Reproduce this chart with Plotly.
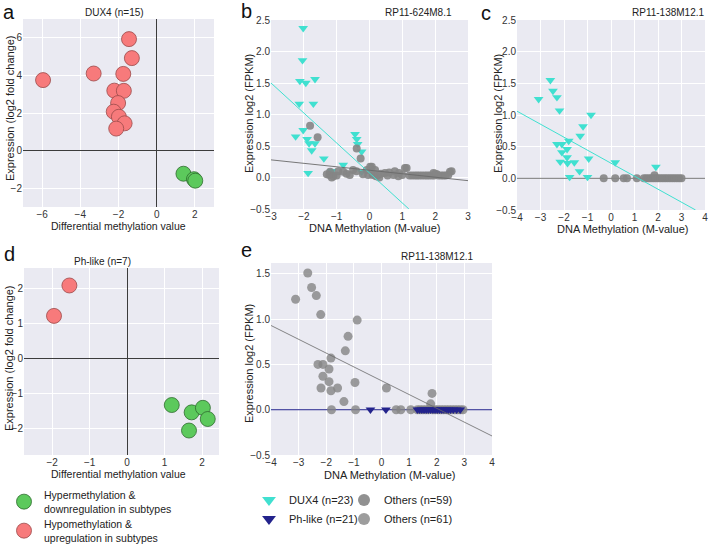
import plotly.graph_objects as go

W, H = 709, 544

# ---------------- data ----------------
# panel a: DUX4 (n=15)
a_hyper_x = [1.40, 1.95, 2.02]
a_hyper_y = [-1.23, -1.52, -1.60]
a_hypo_x = [-5.95, -3.30, -1.45, -1.30, -1.75, -2.22, -1.72, -2.02, -2.25, -1.98, -1.68, -2.12]
a_hypo_y = [3.75, 4.10, 5.93, 4.92, 4.08, 3.19, 3.18, 2.53, 2.07, 1.80, 1.45, 1.17]

# panel d: Ph-like (n=7)
d_hyper_x = [1.19, 1.72, 2.02, 2.15, 1.65]
d_hyper_y = [-1.32, -1.53, -1.40, -1.72, -2.05]
d_hypo_x = [-1.54, -1.95]
d_hypo_y = [2.10, 1.23]

# panel b: RP11-624M8.1
b_dux4_x = [-2.02, -2.04, -2.12, -1.94, -1.66, -2.14, -1.71, -2.25, -2.02, -1.90, -1.84, -1.66,
            -1.76, -1.39, -1.87, -0.80, -1.10, -1.15, -0.44, -0.39, -0.36, -0.24, -0.24]
b_dux4_y = [2.37, 1.86, 1.53, 1.50, 1.56, 1.17, 1.17, 0.65, 0.75, 0.61, 0.54, 0.54,
            0.43, 0.30, 0.07, 0.20, 0.05, 0.10, 0.69, 0.61, 0.53, 0.41, 0.09]
b_others_x = [-1.81, -1.58, -0.39, -0.27, -1.30, -1.22, -1.20, -1.15, -1.10, -1.00, -0.95, -0.80,
              -0.70, -0.60, -0.50, -0.40, -0.20, -0.08, -0.04, 0.02, 0.07, 0.10, 0.12, 0.17,
              0.20, 0.27, 0.30, 0.35, 0.47, 0.55, 0.60, 0.73, 0.77, 0.88, 0.90, 1.00, 1.08,
              1.13, 1.22, 1.30, 1.38, 1.45, 1.52, 1.60, 1.68, 1.75, 1.82, 1.90, 1.95, 1.97,
              2.00, 2.05, 2.10, 2.18, 2.25, 2.32, 2.40, 2.45, 2.50]
b_others_y = [0.82, 0.64, 0.46, 0.30, 0.05, 0.04, 0.09, 0.00, 0.02, 0.03, 0.10, 0.09,
              0.06, 0.04, 0.12, 0.10, 0.05, 0.12, 0.04, 0.17, 0.17, 0.04, 0.06, 0.12,
              0.02, 0.04, 0.00, 0.06, 0.07, 0.03, 0.08, 0.04, 0.10, 0.02, 0.07, 0.04, 0.15,
              0.15, 0.03, 0.03, 0.03, 0.03, 0.03, 0.03, 0.03, 0.03, 0.03, 0.03, 0.07, 0.03,
              0.06, 0.05, 0.03, 0.03, 0.03, 0.03, 0.04, 0.09, 0.10]
b_dux4_fit_x = [-3.0, 1.2]
b_dux4_fit_y = [1.50, -0.50]
b_others_fit_x = [-3.0, 3.0]
b_others_fit_y = [0.28, -0.05]

# panel c: RP11-138M12.1 (DUX4)
c_dux4_x = [-2.58, -2.47, -2.30, -3.08, -2.19, -0.85, -1.19, -1.31, -1.80, -2.30, -2.09, -1.87,
            -2.09, -1.87, -0.95, -2.16, -1.85, -1.56, 0.18, -1.34, 1.91, -1.76, -1.00]
c_dux4_y = [1.55, 1.38, 1.28, 1.25, 1.07, 1.00, 0.82, 0.67, 0.59, 0.54, 0.54, 0.46,
            0.41, 0.33, 0.31, 0.26, 0.24, 0.25, 0.25, 0.11, 0.18, 0.02, 0.02]
c_others_x = [-0.31, 0.18, 0.54, 0.68, 1.10, 1.40, 1.50, 1.60, 1.70, 1.80, 1.85, 1.90,
              2.00, 2.10, 2.20, 2.30, 2.40, 2.50, 2.60, 2.70, 2.80, 2.90, 3.00]
c_others_y = [0, 0, 0, 0, 0, 0, 0, 0, 0, 0, 0.05, 0,
              0, 0, 0, 0, 0, 0, 0, 0, 0, 0, 0]
c_dux4_fit_x = [-4.0, 3.6]
c_dux4_fit_y = [1.06, -0.50]
c_others_fit_x = [-4.0, 4.0]
c_others_fit_y = [0.0, 0.0]

# panel e: RP11-138M12.1 (Ph-like)
e_others_x = [-2.67, -2.53, -2.36, -3.11, -2.20, -0.88, -1.21, -1.31, -1.83, -2.30, -2.12, -1.90,
              -2.12, -1.90, -0.96, -2.19, -1.83, -1.59, 0.18, -1.36, 1.83, 1.78, -1.81, -0.94,
              0.53, 0.70, 1.06, 1.30, 1.40, 1.50, 1.60, 1.70, 1.85, 1.95, 2.05, 2.15, 2.25,
              2.35, 2.45, 2.55, 2.65, 2.75, 2.85, 2.95]
e_others_y = [1.51, 1.35, 1.26, 1.22, 1.05, 0.99, 0.81, 0.65, 0.57, 0.50, 0.50, 0.45,
              0.37, 0.31, 0.30, 0.24, 0.21, 0.24, 0.24, 0.09, 0.18, 0.065, 0, 0,
              0, 0, 0, 0, 0, 0, 0, 0, 0, 0, 0, 0, 0,
              0, 0, 0, 0, 0, 0, 0]
e_phlike_x = [-0.40, 0.16, 1.30, 1.38, 1.46, 1.54, 1.62, 1.70, 1.78, 1.86, 1.94, 2.02,
              2.10, 2.18, 2.26, 2.34, 2.42, 2.50, 2.60, 2.72, 2.85]
e_phlike_y = [0] * 21
e_phlike_fit_x = [-4.0, 4.0]
e_phlike_fit_y = [0.0, 0.0]
e_others_fit_x = [-4.0, 4.0]
e_others_fit_y = [0.93, -0.29]

# ---------------- styles ----------------
RED, RED_EDGE = '#F77A7B', '#9A4A4A'
GREEN, GREEN_EDGE = '#5CC95C', '#2F6B2F'
CYAN = '#40E0D0'
GRAY = '#858585'
NAVY = '#23238C'
BG = '#EAEAF2'
FONT = 'Liberation Sans, Arial, sans-serif'


def dom_x(a, b):
    return [a / W, b / W]


def dom_y(top, bottom):
    return [1 - bottom / H, 1 - top / H]


def axis(domain, rng, dtick, anchor, fmt=None, zeroline=False):
    d = dict(domain=domain, range=rng, dtick=dtick, tick0=0, showgrid=True,
             gridcolor='white', gridwidth=1, zeroline=zeroline,
             zerolinecolor='#3c3c3c', zerolinewidth=1, showline=False, ticks='',
             tickfont=dict(size=10, color='#333333', family=FONT), anchor=anchor,
             fixedrange=True, automargin=False)
    if fmt:
        d['tickformat'] = fmt
    return d


fig = go.Figure()

# panel a
fig.add_trace(go.Scatter(x=a_hyper_x, y=a_hyper_y, mode='markers', xaxis='x', yaxis='y',
                         name='Hypermethylation &<br>downregulation in subtypes',
                         marker=dict(size=15, color=GREEN, line=dict(color=GREEN_EDGE, width=0.8)),
                         legend='legend'))
fig.add_trace(go.Scatter(x=a_hypo_x, y=a_hypo_y, mode='markers', xaxis='x', yaxis='y',
                         name='Hypomethylation &<br>upregulation in subtypes',
                         marker=dict(size=15, color=RED, line=dict(color=RED_EDGE, width=0.8)),
                         legend='legend2'))
# panel d
fig.add_trace(go.Scatter(x=d_hyper_x, y=d_hyper_y, mode='markers', xaxis='x4', yaxis='y4',
                         showlegend=False,
                         marker=dict(size=15, color=GREEN, line=dict(color=GREEN_EDGE, width=0.8))))
fig.add_trace(go.Scatter(x=d_hypo_x, y=d_hypo_y, mode='markers', xaxis='x4', yaxis='y4',
                         showlegend=False,
                         marker=dict(size=15, color=RED, line=dict(color=RED_EDGE, width=0.8))))
# panel b
fig.add_trace(go.Scatter(x=b_dux4_x, y=b_dux4_y, mode='markers', xaxis='x2', yaxis='y2',
                         name='DUX4 (n=23)', legend='legend3',
                         marker=dict(symbol='triangle-down', size=8.5, color=CYAN)))
fig.add_trace(go.Scatter(x=b_others_x, y=b_others_y, mode='markers', xaxis='x2', yaxis='y2',
                         name='Others (n=59)', legend='legend4',
                         marker=dict(size=8, color=GRAY, opacity=0.9)))
fig.add_trace(go.Scatter(x=b_dux4_fit_x, y=b_dux4_fit_y, mode='lines', xaxis='x2', yaxis='y2',
                         showlegend=False, line=dict(color=CYAN, width=1)))
fig.add_trace(go.Scatter(x=b_others_fit_x, y=b_others_fit_y, mode='lines', xaxis='x2', yaxis='y2',
                         showlegend=False, line=dict(color='#6a6a6a', width=0.9)))
# panel c
fig.add_trace(go.Scatter(x=c_others_fit_x, y=c_others_fit_y, mode='lines', xaxis='x3', yaxis='y3',
                         showlegend=False, line=dict(color='#777777', width=1)))
fig.add_trace(go.Scatter(x=c_dux4_x, y=c_dux4_y, mode='markers', xaxis='x3', yaxis='y3',
                         showlegend=False,
                         marker=dict(symbol='triangle-down', size=8.5, color=CYAN)))
fig.add_trace(go.Scatter(x=c_others_x, y=c_others_y, mode='markers', xaxis='x3', yaxis='y3',
                         showlegend=False, marker=dict(size=8, color=GRAY, opacity=0.9)))
fig.add_trace(go.Scatter(x=c_dux4_fit_x, y=c_dux4_fit_y, mode='lines', xaxis='x3', yaxis='y3',
                         showlegend=False, line=dict(color=CYAN, width=1)))
# panel e
fig.add_trace(go.Scatter(x=e_phlike_fit_x, y=e_phlike_fit_y, mode='lines', xaxis='x5', yaxis='y5',
                         showlegend=False, line=dict(color=NAVY, width=1)))
fig.add_trace(go.Scatter(x=e_others_x, y=e_others_y, mode='markers', xaxis='x5', yaxis='y5',
                         name='Others (n=61)', legend='legend6',
                         marker=dict(size=9, color=GRAY, opacity=0.8)))
fig.add_trace(go.Scatter(x=e_phlike_x, y=e_phlike_y, mode='markers', xaxis='x5', yaxis='y5',
                         name='Ph-like (n=21)', legend='legend5',
                         marker=dict(symbol='triangle-down', size=8.5, color=NAVY)))
fig.add_trace(go.Scatter(x=e_others_fit_x, y=e_others_fit_y, mode='lines', xaxis='x5', yaxis='y5',
                         showlegend=False, line=dict(color='#6a6a6a', width=0.8)))


def ann(text, x, y, size=10, angle=0, color='#222222'):
    return dict(text=text, x=x / W, y=1 - y / H, xref='paper', yref='paper',
                xanchor='center', yanchor='middle', showarrow=False, textangle=angle,
                font=dict(size=size, color=color, family=FONT))


annotations = [
    # panel letters
    ann('a', 9, 12, 20, color='#111'), ann('b', 246, 11, 20, color='#111'),
    ann('c', 486, 13, 20, color='#111'), ann('d', 9, 254, 20, color='#111'),
    ann('e', 246, 250, 20, color='#111'),
    # titles
    ann('DUX4 (n=15)', 114, 12), ann('RP11-624M8.1', 418, 12), ann('RP11-138M12.1', 668, 12),
    ann('Ph-like (n=7)', 102, 261), ann('RP11-138M12.1', 437, 256),
    # x titles
    ann('Differential methylation value', 118, 226, 10.5),
    ann('DNA Methylation (M-value)', 375, 228, 11),
    ann('DNA Methylation (M-value)', 622, 229, 11),
    ann('Differential methylation value', 119, 474, 10.5),
    ann('DNA Methylation (M-value)', 389, 475, 11),
    # y titles
    ann('Expression (log2 fold change)', 10, 108, 11, -90),
    ann('Expression log2 (FPKM)', 249, 114, 11, -90),
    ann('Expression log2 (FPKM)', 498, 114, 11, -90),
    ann('Expression (log2 fold change)', 9, 358, 11, -90),
    ann('Expression log2 (FPKM)', 249, 364, 11, -90),
]


def leg(left, cy, size, sizing):
    return dict(x=left / W, y=1 - cy / H, xanchor='left', yanchor='middle',
                bgcolor='rgba(0,0,0,0)', borderwidth=0, itemsizing=sizing,
                font=dict(size=size, color='#222222', family=FONT), tracegroupgap=0,
                itemclick=False, itemdoubleclick=False)


fig.update_layout(
    width=W, height=H, margin=dict(l=0, r=0, t=0, b=0, pad=0, autoexpand=False),
    paper_bgcolor='white', plot_bgcolor=BG,
    font=dict(family=FONT),
    xaxis=axis(dom_x(23, 214), [-7, 3], 2, 'y', zeroline=True),
    yaxis=axis(dom_y(19, 207), [-3, 7], 2, 'x', zeroline=True),
    xaxis2=axis(dom_x(271, 468), [-3, 3], 1, 'y2'),
    yaxis2=axis(dom_y(20, 209), [-0.5, 2.5], 0.5, 'x2', fmt='.1f'),
    xaxis3=axis(dom_x(517, 705), [-4, 4], 1, 'y3'),
    yaxis3=axis(dom_y(20, 210), [-0.5, 2.5], 0.5, 'x3', fmt='.1f'),
    xaxis4=axis(dom_x(24, 219), [-2.75, 2.45], 1, 'y4', zeroline=True),
    yaxis4=axis(dom_y(268, 455), [-2.75, 2.6], 1, 'x4', zeroline=True),
    xaxis5=axis(dom_x(271, 492), [-4, 4], 1, 'y5'),
    yaxis5=axis(dom_y(263, 455), [-0.5, 1.62], 0.5, 'x5', fmt='.1f'),
    legend=leg(4, 502, 10.5, 'trace'),
    legend2=leg(4, 531, 10.5, 'trace'),
    legend3=leg(249, 500, 11, 'constant'),
    legend4=leg(344, 500, 11, 'constant'),
    legend5=leg(249, 519, 11, 'constant'),
    legend6=leg(344, 519, 11, 'constant'),
    annotations=annotations,
)

fig.write_html('out.html',
               config={'displayModeBar': False, 'staticPlot': False},
               post_script="document.body.style.margin='0px';"
                           "document.documentElement.style.overflow='hidden';")
